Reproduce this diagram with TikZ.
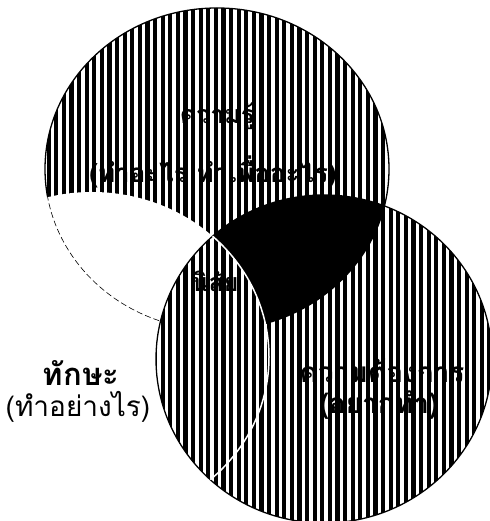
\documentclass[tikz,border=0pt]{standalone}
\usepackage{fontspec}
\newfontfamily\thaifont[Script=Thai]{Loma}

\newcommand{\knowT}{(217,352) ellipse [x radius=172, y radius=161]}
\newcommand{\wantR}{(324,162) ellipse [x radius=168, y radius=164]}
\newcommand{\skillL}{(92,164) ellipse [x radius=177, y radius=165]}
\newcommand{\stripes}{\foreach \i in {0,...,64} {\draw[stripe] ({3+7.6*\i},0) -- ++(0,521);}}

\begin{document}
\begin{tikzpicture}[
  x=1pt, y=1pt,
  stripe/.style={draw=black, line width=4.2pt},
  rim/.style={draw=black, line width=1.3pt},
  thaitext/.style={font=\thaifont\fontsize{#1}{#1}\selectfont, inner sep=0pt},
  thaitext/.default=24,
  thaibold/.style={inner sep=0pt, font=\thaifont\bfseries\fontsize{#1}{#1}\selectfont},
  thaibold/.default=24
]
\useasboundingbox (0,0) rectangle (489,521);
\begin{scope}
  \clip \knowT;
  \stripes
\end{scope}
\begin{scope}
  \clip \wantR;
  \stripes
\end{scope}
\begin{scope}
  \clip \knowT;
  \fill[black] \wantR;
  \fill[white] \skillL;
\end{scope}
\draw[rim] \knowT;
\begin{scope}
  \clip \skillL;
  \draw[white, line width=3pt] \knowT;
  \draw[black, line width=0.6pt, dash pattern=on 6pt off 3pt] \knowT;
\end{scope}
\begin{scope}
  \clip \wantR;
  \clip \skillL;
  \fill[white] \skillL;
  \stripes
\end{scope}
\draw[rim] \wantR;
\begin{scope}
  \clip \wantR;
  \draw[white, line width=1.5pt] \skillL;
\end{scope}
\node[thaibold=25] (knowname) at (217,405) {ความรู้};
\node[thaibold=26] (knowwhy) at (213,349) {(ทำอะไร ทำเพื่ออะไร)};
\node[thaibold=25] (habit) at (215,240) {นิสัย};
\node[thaibold=28] (wantname) at (382,150) {ความต้องการ};
\node[thaibold=28] (wantwhy) at (379,116) {(อยากทำ)};
\node[thaibold=31] (skillname) at (81,148) {ทักษะ};
\node[thaitext=28] (skillhow) at (78,114) {(ทำอย่างไร)};
\end{tikzpicture}
\end{document}
